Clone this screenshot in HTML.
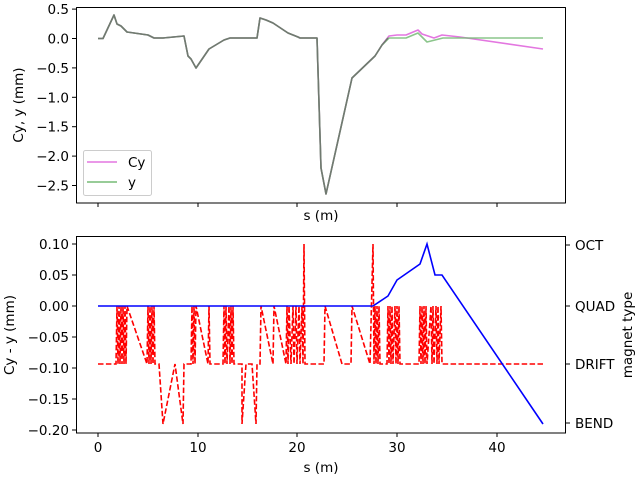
<!DOCTYPE html>
<html><head><meta charset="utf-8"><style>body{margin:0;background:#fff}svg{display:block}text{font-family:"DejaVu Sans","Liberation Sans",sans-serif;font-size:13.5px;fill:#000}</style></head><body>
<svg width="640" height="480" viewBox="0 0 640 480">
<g fill="none" stroke-linejoin="round">
<polyline stroke="#e377e0" stroke-width="1.6" points="98,38.5 103,38.5 114,15 117,24 121,26 127,32 148,35 154,38 163,38 184,36 188,56 191,59 196,68 209,49 224,40 230,38 251,38 257,38 260,18 266,20 273,23 288,33 298,37 300,38 317,38 321,168 326,194 352,78 375,56 382,45 389,36 397,35 406,35 418,30 422,34 434,38 442,35 460,37 543,49"/>
<polyline stroke="#77bb77" stroke-opacity="0.85" stroke-width="1.6" points="98,38.5 103,38.5 114,15 117,24 121,26 127,32 148,35 154,38 163,38 184,36 188,56 191,59 196,68 209,49 224,40 230,38 251,38 257,38 260,18 266,20 273,23 288,33 298,37 300,38 317,38 321,168 326,194 352,78 375,56 382,45 389,38 406,38 418,33 427,42 435,40 443,38 543,38"/>
<polyline stroke="#707a70" stroke-width="1.6" points="98,38.5 103,38.5 114,15 117,24 121,26 127,32 148,35 154,38 163,38 184,36 188,56 191,59 196,68 209,49 224,40 230,38 251,38 257,38 260,18 266,20 273,23 288,33 298,37 300,38 317,38 321,168 326,194 352,78 375,56 382,45 388,38"/>
<rect x="76.5" y="7.5" width="489" height="195.5" stroke="#000" stroke-width="1"/>
</g>
<g stroke="#000" stroke-width="1">
<line x1="98" y1="203" x2="98" y2="207"/><line x1="198" y1="203" x2="198" y2="207"/><line x1="297" y1="203" x2="297" y2="207"/><line x1="397" y1="203" x2="397" y2="207"/><line x1="497" y1="203" x2="497" y2="207"/>
<line x1="72" y1="9.1" x2="76" y2="9.1"/><line x1="72" y1="38.5" x2="76" y2="38.5"/><line x1="72" y1="67.9" x2="76" y2="67.9"/><line x1="72" y1="97.3" x2="76" y2="97.3"/><line x1="72" y1="126.7" x2="76" y2="126.7"/><line x1="72" y1="156.1" x2="76" y2="156.1"/><line x1="72" y1="185.5" x2="76" y2="185.5"/>
</g>
<g text-anchor="end">
<text x="69" y="14">0.5</text><text x="69" y="43.5">0.0</text><text x="69" y="72.9">−0.5</text><text x="69" y="102.3">−1.0</text><text x="69" y="131.7">−1.5</text><text x="69" y="161.1">−2.0</text><text x="69" y="190.5">−2.5</text>
</g>
<text x="321" y="220" text-anchor="middle">s (m)</text>
<text transform="translate(23,105) rotate(-90)" text-anchor="middle">Cy, y (mm)</text>
<rect x="83.5" y="150.5" width="68" height="45" rx="2" fill="#fff" stroke="#ccc"/>
<line x1="87" y1="162" x2="117" y2="162" stroke="#e377e0" stroke-width="1.6"/>
<line x1="87" y1="182" x2="117" y2="182" stroke="#77bb77" stroke-width="1.6"/>
<text x="128" y="167">Cy</text><text x="128" y="187">y</text>

<polyline fill="none" stroke="#ff0000" stroke-width="1.6" stroke-dasharray="5.5,2.4" points="98,364 116,364 117,306 118,364 119,306 120,364 121,306 122,364 123,306 124,364 125,306 126,364 127,306 147,364 148,306 149,364 150,306 151,364 152,306 153,364 154,306 155,364 159,364 163,424 175,364 183,424 184,364 191,364 192,306 193,364 194,306 195,364 196,306 208,364 209,306 210,364 223,364 224,306 225,364 226,306 227,364 229,306 230,364 231,306 232,364 233,306 234,364 242,364 242,424 246,364 252,364 256,424 257,364 260,364 261,306 273,364 274,306 286,364 287,306 288,364 289,306 291,364 293,306 294,364 296,306 297,364 299,306 300,364 302,306 303,364 304,244 305,364 309,364 324,364 325,306 342,364 351,364 352,306 370,364 373,244 374,364 375,306 376,364 377,306 378,364 379,306 380,364 387,364 388,306 389,364 390,306 391,364 392,306 393,364 395,306 396,364 397,306 398,364 399,306 400,364 419,364 420,306 421,364 422,306 423,364 424,306 425,364 426,306 427,364 431,306 432,364 433,306 434,364 436,306 437,364 438,306 439,364 441,306 442,364 543,364"/>
<polyline fill="none" stroke="#0000ff" stroke-width="1.6" points="98,306 373,306 388,296 397,280 420,264 427,244 435,275 442,275 543,424"/>
<rect x="76.5" y="236.5" width="489" height="196.5" fill="none" stroke="#000"/>
<g stroke="#000" stroke-width="1">
<line x1="98" y1="433" x2="98" y2="437"/><line x1="198" y1="433" x2="198" y2="437"/><line x1="297" y1="433" x2="297" y2="437"/><line x1="397" y1="433" x2="397" y2="437"/><line x1="497" y1="433" x2="497" y2="437"/>
<line x1="72" y1="244" x2="76" y2="244"/><line x1="72" y1="275" x2="76" y2="275"/><line x1="72" y1="306" x2="76" y2="306"/><line x1="72" y1="337" x2="76" y2="337"/><line x1="72" y1="368" x2="76" y2="368"/><line x1="72" y1="399" x2="76" y2="399"/><line x1="72" y1="430" x2="76" y2="430"/>
<line x1="566" y1="245" x2="570" y2="245"/><line x1="566" y1="306" x2="570" y2="306"/><line x1="566" y1="364" x2="570" y2="364"/><line x1="566" y1="423" x2="570" y2="423"/>
</g>
<g text-anchor="middle">
<text x="98" y="452">0</text><text x="198" y="452">10</text><text x="297" y="452">20</text><text x="397" y="452">30</text><text x="497" y="452">40</text>
</g>
<g text-anchor="end">
<text x="69" y="249">0.10</text><text x="69" y="280">0.05</text><text x="69" y="311">0.00</text><text x="69" y="342">−0.05</text><text x="69" y="373">−0.10</text><text x="69" y="404">−0.15</text><text x="69" y="435">−0.20</text>
</g>
<g>
<text x="575" y="250">OCT</text><text x="575" y="311">QUAD</text><text x="575" y="369">DRIFT</text><text x="575" y="428">BEND</text>
</g>
<text x="321" y="472" text-anchor="middle">s (m)</text>
<text transform="translate(14,335) rotate(-90)" text-anchor="middle">Cy - y (mm)</text>
<text transform="translate(632,335) rotate(-90)" text-anchor="middle">magnet type</text>
</svg>
</body></html>
